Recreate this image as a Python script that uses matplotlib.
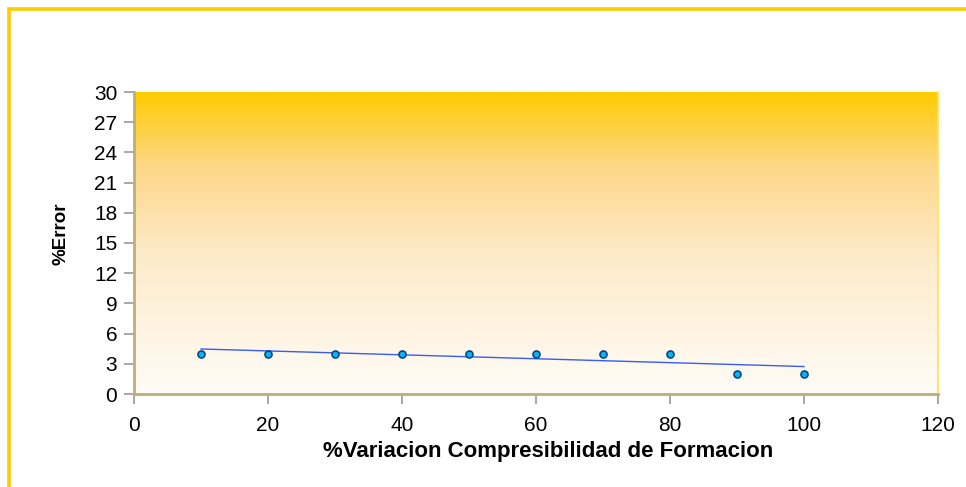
import numpy as np
import matplotlib
matplotlib.use("Agg")
import matplotlib.pyplot as plt
from matplotlib.colors import LinearSegmentedColormap
from matplotlib.patches import Rectangle

plt.rcParams['font.family'] = ['Liberation Sans', 'DejaVu Sans']

# % variacion de compresibilidad vs % error
variacion = [10, 20, 30, 40, 50, 60, 70, 80, 90, 100]
error = [4, 4, 4, 4, 4, 4, 4, 4, 2, 2]

fig = plt.figure(figsize=(9.66, 4.87), dpi=100)
fig.patch.set_facecolor('white')

# marco amarillo del grafico
fig.patches.append(Rectangle((9 / 966, -0.05), 1.1, 1 - 8.5 / 487 + 0.05,
                             transform=fig.transFigure, fill=False,
                             edgecolor='#FFCC00', linewidth=2.6, zorder=0))

ax = fig.add_axes([134 / 966, 93 / 487, 804 / 966, 302 / 487])

# fondo degradado dorado -> blanco
cmap = LinearSegmentedColormap.from_list(
    'oro', [(0.0, '#FFFCF7'), (0.45, '#FEEBCB'), (0.75, '#FDD88A'), (1.0, '#FFCC00')])
grad = np.linspace(0, 1, 256).reshape(-1, 1)
ax.imshow(grad, cmap=cmap, aspect='auto', origin='lower',
          extent=[0, 1, 0, 1], transform=ax.transAxes, zorder=0)

ax.set_xlim(0, 120)
ax.set_ylim(0, 30)
ax.set_xticks(range(0, 121, 20))
ax.set_yticks(range(0, 31, 3))

# linea de tendencia lineal
m, b = np.polyfit(variacion, error, 1)
xs = np.array([min(variacion), max(variacion)])
ax.plot(xs, m * xs + b, color='#3A5BF5', linewidth=1.0, zorder=2)

ax.scatter(variacion, error, s=26, color='#08B4F0', edgecolors='#003E7E',
           linewidths=1.1, zorder=3)

ax.spines['top'].set_visible(False)
ax.spines['right'].set_color('#FFE27A')
ax.spines['right'].set_linewidth(1.5)
for s in ['left', 'bottom']:
    ax.spines[s].set_color('#BFAE78')
    ax.spines[s].set_linewidth(2)

ax.tick_params(axis='both', which='major', direction='out', length=7,
               width=1.2, color='#999999', labelsize=15)
ax.tick_params(axis='x', pad=9)
ax.tick_params(axis='y', pad=5)

ax.set_xlabel('%Variacion Compresibilidad de Formacion', fontsize=16,
              fontweight='bold')
ax.xaxis.set_label_coords(0.515, -0.155)
ax.set_ylabel('%Error', fontsize=13.5, fontweight='bold')
ax.yaxis.set_label_coords(-0.080, 0.53)

fig.savefig('out.png', dpi=100)
